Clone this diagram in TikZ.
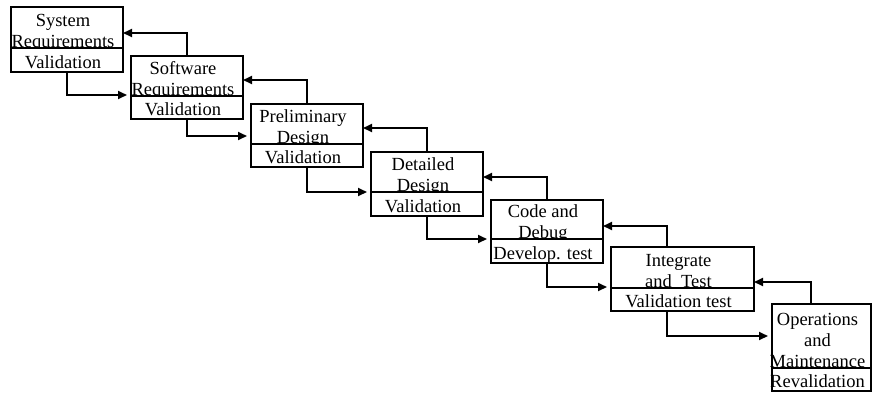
\documentclass[tikz,border=0pt]{standalone}
\usepackage{fontspec}
\setmainfont{Liberation Serif}
\usetikzlibrary{arrows.meta}

% One waterfall stage: upper box with its (two- or three-line) title,
% lower box with the check that closes the stage.
% #1 id, #2 left, #3 top, #4 divider, #5 bottom, #6 right, #7 title, #8 check
% The title's last line sits on the divider and is partly hidden by the lower box.
\newcommand\wfstage[8]{%
  \node[stagebox, minimum width={#6-#2}, minimum height={#4-#3}] (u#1) at (#2,#3) {};
  \node[stagetext] (t#1) at ({(#2+#6)/2-4},{#4-1}) {#7};
  \node[stagebox, fill=white, minimum width={#6-#2}, minimum height={#5-#4}] (v#1) at (#2,#4) {};
  \node[stagetext] (w#1) at ({(#2+#6)/2-4},{#5-4}) {#8};
}

\tikzset{
  stagebox/.style={draw=black, line width=1.8pt, rectangle, anchor=north west,
                   inner sep=0pt, outer sep=0pt},
  stagetext/.style={anchor=base, align=center, inner sep=0pt,
                    font=\fontsize{18.5}{21}\selectfont},
  flow/.style={draw=black, line width=1.8pt,
               -{Triangle[length=9pt,width=8pt]}},
}

\begin{document}
\begin{tikzpicture}[x=1pt,y=-1pt]
\useasboundingbox (0,0) rectangle (872,392);

\wfstage{1}{11}{7}{48}{72}{123}{System\\Requirements}{Validation}
\wfstage{2}{131}{56}{96}{119}{243}{Software\\Requirements}{Validation}
\wfstage{3}{251}{104}{144}{167}{363}{Preliminary\\Design}{Validation}
\wfstage{4}{371}{152}{192}{216}{483}{Detailed\\Design}{Validation}
\wfstage{5}{491}{200}{239}{263}{603}{Code and\\Debug}{Develop. test}
\wfstage{6}{611}{247}{288}{311}{754}{Integrate\\and\enspace Test}{Validation test}
\wfstage{7}{772}{304}{368}{391}{871}{Operations\\and\\Maintenance}{Revalidation}

% forward flow: each stage hands over to the next one
\draw[flow, shorten >=4pt] (v1.south -| 67,0) |- (u2.west |- 0,95);
\draw[flow, shorten >=4pt] (v2.south -| 187,0) |- (u3.west |- 0,136);
\draw[flow, shorten >=4pt] (v3.south -| 307,0) |- (u4.west |- 0,192);
\draw[flow, shorten >=4pt] (v4.south -| 427,0) |- (u5.west |- 0,239);
\draw[flow, shorten >=4pt] (v5.south -| 547,0) |- (u6.west |- 0,287);
\draw[flow, shorten >=4pt] (v6.south -| 667,0) |- (u7.west |- 0,336);

% feedback: each stage reports back to the previous one
\draw[flow] (u2.north -| 187,0) |- (u1.east |- 0,33);
\draw[flow] (u3.north -| 307,0) |- (u2.east |- 0,80);
\draw[flow] (u4.north -| 427,0) |- (u3.east |- 0,128);
\draw[flow] (u5.north -| 547,0) |- (u4.east |- 0,177);
\draw[flow] (u6.north -| 667,0) |- (u5.east |- 0,226);
\draw[flow] (u7.north -| 811,0) |- (u6.east |- 0,282);
\end{tikzpicture}
\end{document}
